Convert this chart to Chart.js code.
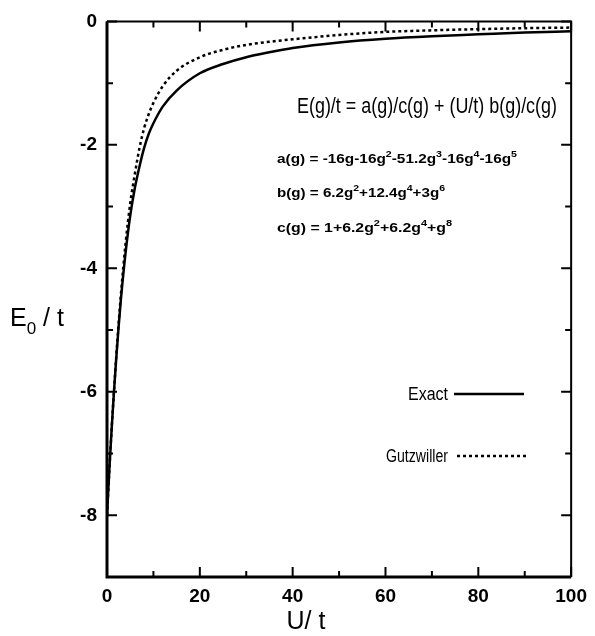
<!DOCTYPE html>
<html>
<head>
<meta charset="utf-8">
<script src="https://cdn.jsdelivr.net/npm/chart.js@4.4.0/dist/chart.umd.min.js"></script>
<style>
  body { margin: 0; background: #fff; }
  canvas { display: block; }
</style>
</head>
<body>
<canvas id="energyChart" width="595" height="636"></canvas>
<script>
const uValues = [0, 0.5, 1, 1.5, 2, 2.5, 3, 4, 5, 6, 7, 8, 9, 10, 12, 15, 20, 25, 30, 35, 40, 50, 60, 70, 80, 90, 100]
// E0/t, exact solution
const exactEnergy = [-8, -7.27, -6.6, -6.0, -5.45, -4.95, -4.5, -3.75, -3.15, -2.7, -2.35, -2.05, -1.82, -1.65, -1.38, -1.12, -0.84, -0.69, -0.58, -0.5, -0.43, -0.34, -0.28, -0.24, -0.21, -0.18, -0.16]
// E0/t, Gutzwiller approximation
const gutzEnergy = [-8, -7.27, -6.6, -6.0, -5.42, -4.9, -4.42, -3.6, -2.95, -2.47, -2.05, -1.73, -1.5, -1.32, -1.05, -0.8, -0.58, -0.46, -0.38, -0.33, -0.29, -0.22, -0.17, -0.145, -0.125, -0.11, -0.1]

const seriesLabels = ['Exact', 'Gutzwiller']
const yTickLabels = ['0', '-2', '-4', '-6', '-8']
const xTickLabels = ['0', '20', '40', '60', '80', '100']

const FONT = "'Liberation Sans', Arial, sans-serif"

// text with ^x superscript / _x subscript, squeezed to a given width
function drawRich(ctx, str, x, y, size, width, weight) {
  const parts = []
  for (let i = 0; i < str.length; i++) {
    const ch = str[i]
    if ((ch === '^' || ch === '_') && i + 1 < str.length) {
      parts.push({ t: str[i + 1], k: ch === '^' ? 'sup' : 'sub' })
      i++
    } else {
      if (parts.length && parts[parts.length - 1].k === 'n') parts[parts.length - 1].t += ch
      else parts.push({ t: ch, k: 'n' })
    }
  }
  const fontFor = k => (weight || 'normal') + ' ' + (k === 'n' ? size : Math.round(size * 0.68)) + 'px ' + FONT
  let total = 0
  parts.forEach(p => { ctx.font = fontFor(p.k); p.w = ctx.measureText(p.t).width; total += p.w })
  const sx = width ? width / total : 1
  ctx.save()
  ctx.translate(x, y)
  ctx.scale(sx, 1)
  ctx.textBaseline = 'alphabetic'
  ctx.textAlign = 'left'
  ctx.fillStyle = '#000'
  let cx = 0
  parts.forEach(p => {
    ctx.font = fontFor(p.k)
    const dy = p.k === 'sup' ? -size * 0.45 : p.k === 'sub' ? size * 0.3 : 0
    ctx.fillText(p.t, cx, dy)
    cx += p.w
  })
  ctx.restore()
}

const decorPlugin = {
  id: 'decor',
  afterDraw(chart) {
    const ctx = chart.ctx
    const area = chart.chartArea
    const xs = chart.scales.x
    const ys = chart.scales.y
    ctx.save()
    ctx.strokeStyle = '#000'
    ctx.lineCap = 'butt'

    // inward ticks on all four sides
    ctx.lineWidth = 2
    ys.ticks.forEach(t => {
      const py = ys.getPixelForValue(t.value)
      const len = t.value % 2 === 0 ? 10 : 6
      ctx.beginPath()
      ctx.moveTo(area.left, py); ctx.lineTo(area.left + len, py)
      ctx.moveTo(area.right, py); ctx.lineTo(area.right - len, py)
      ctx.stroke()
    })
    xs.ticks.forEach(t => {
      const px = xs.getPixelForValue(t.value)
      const len = t.value % 20 === 0 ? 10 : 6
      ctx.beginPath()
      ctx.moveTo(px, area.bottom); ctx.lineTo(px, area.bottom - len)
      ctx.moveTo(px, area.top); ctx.lineTo(px, area.top + len)
      ctx.stroke()
    })

    // frame
    ctx.lineWidth = 2
    ctx.beginPath()
    ctx.moveTo(area.left, area.top); ctx.lineTo(area.right, area.top); ctx.lineTo(area.right, area.bottom)
    ctx.stroke()
    ctx.lineWidth = 3
    ctx.beginPath()
    ctx.moveTo(area.left, area.top); ctx.lineTo(area.left, area.bottom); ctx.lineTo(area.right, area.bottom)
    ctx.stroke()

    // axis titles
    drawRich(ctx, 'E_0 / t', 10, 326, 25, 0, 'normal')
    ctx.fillStyle = '#000'
    ctx.font = '25px ' + FONT
    ctx.textAlign = 'center'
    ctx.textBaseline = 'alphabetic'
    ctx.fillText('U/ t', 306, 629)

    // formula
    drawRich(ctx, 'E(g)/t = a(g)/c(g) + (U/t) b(g)/c(g)', 297, 113, 22, 260, 'normal')
    drawRich(ctx, 'a(g) = -16g-16g^2-51.2g^3-16g^4-16g^5', 277, 163, 13, 240, 'bold')
    drawRich(ctx, 'b(g) = 6.2g^2+12.4g^4+3g^6', 277, 197, 13, 168, 'bold')
    drawRich(ctx, 'c(g) = 1+6.2g^2+6.2g^4+g^8', 277, 232, 13, 175, 'bold')

    // legend
    const rows = [
      { x: 408, y: 400, w: 40, x1: 454, x2: 524 },
      { x: 386, y: 462, w: 62, x1: 457, x2: 528 }
    ]
    chart.data.datasets.forEach((ds, i) => {
      const r = rows[i]
      drawRich(ctx, ds.label, r.x, r.y, 18, r.w, 'normal')
      ctx.save()
      ctx.strokeStyle = '#000'
      ctx.lineWidth = ds.borderWidth
      ctx.setLineDash(ds.borderDash || [])
      ctx.beginPath()
      ctx.moveTo(r.x1, r.y - 6); ctx.lineTo(r.x2, r.y - 6)
      ctx.stroke()
      ctx.restore()
    })
    ctx.restore()
  }
}

const energyChart = new Chart(document.getElementById('energyChart'), {
  type: 'line',
  data: {
    datasets: [
      {
        label: seriesLabels[0],
        data: uValues.map((u, i) => ({ x: u, y: exactEnergy[i] })),
        borderColor: '#000',
        borderWidth: 2.5,
        pointRadius: 0,
        cubicInterpolationMode: 'monotone',
        fill: false
      },
      {
        label: seriesLabels[1],
        data: uValues.map((u, i) => ({ x: u, y: gutzEnergy[i] })),
        borderColor: '#000',
        borderWidth: 2.5,
        borderDash: [3, 3],
        pointRadius: 0,
        cubicInterpolationMode: 'monotone',
        fill: false
      }
    ]
  },
  options: {
    responsive: false,
    animation: false,
    devicePixelRatio: 1,
    layout: { padding: { left: 0, right: 23, top: 16, bottom: 0 } },
    plugins: { legend: { display: false }, tooltip: { enabled: false } },
    scales: {
      x: {
        type: 'linear',
        min: 0,
        max: 100,
        grid: { display: false, drawTicks: false },
        border: { display: false },
        ticks: {
          stepSize: 10,
          padding: 8,
          color: '#000',
          font: { family: FONT, size: 19, weight: 'bold' },
          maxRotation: 0,
          autoSkip: false,
          callback: v => (v % 20 === 0 ? xTickLabels[v / 20] : '')
        },
        afterFit: s => { s.height = 59 }
      },
      y: {
        min: -9,
        max: 0,
        grid: { display: false, drawTicks: false },
        border: { display: false },
        ticks: {
          stepSize: 1,
          padding: 10,
          color: '#000',
          font: { family: FONT, size: 19, weight: 'bold' },
          autoSkip: false,
          callback: v => (v % 2 === 0 ? yTickLabels[-v / 2] : '')
        },
        afterFit: s => { s.width = 107 }
      }
    }
  },
  plugins: [decorPlugin]
})
</script>
</body>
</html>
